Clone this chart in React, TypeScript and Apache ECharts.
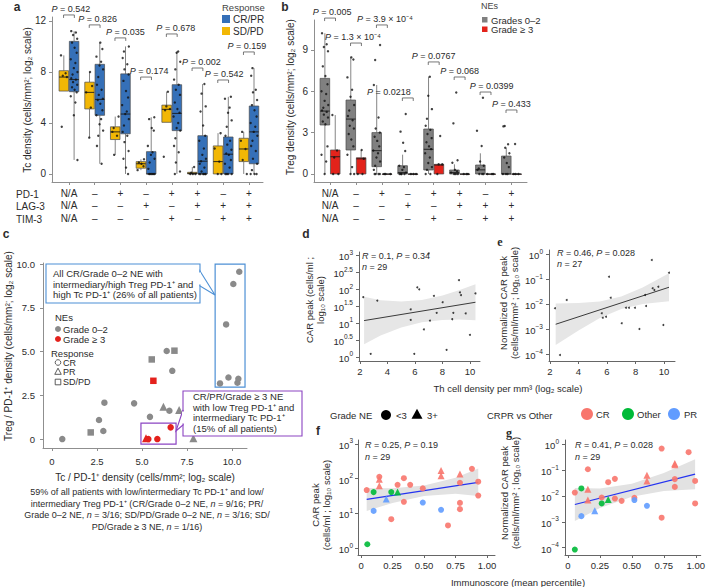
import React, { useEffect, useRef } from "react";
import * as echarts from "echarts";

const FONT = "'Liberation Sans', Arial, Helvetica, sans-serif";
const TXT = "#2b2b2b";
const AX = "#8f8f8f";
const AX2 = "#666666";

// ---------------- Panel a : Tc density by PD-1/LAG-3/TIM-3 ----------------
const markerPD1 = ["N/A", "–", "+", "–", "+", "+", "–", "+"];
const markerLAG3 = ["N/A", "–", "–", "+", "–", "+", "+", "+"];
const markerTIM3 = ["N/A", "–", "–", "–", "+", "–", "+", "+"];
const aTicks = [0, 4, 8, 12];
// [min, q1, median, q3, max]
const aBoxSDPD = [
  [6.5, 6.5, 7.6, 8.1, 9.3],
  [2.85, 5.1, 6.4, 7.2, 8.0],
  [1.5, 2.7, 3.3, 3.7, 4.5],
  [0.3, 0.45, 0.8, 0.97, 1.15],
  [4.05, 4.05, 5.07, 5.4, 6.45],
  [0, 0, 0.05, 0.13, 0.55],
  [0, 0, 0.97, 2.2, 3.2],
  [0, 0.97, 1.96, 2.8, 3.3],
];
const aBoxCRPR = [
  [1.1, 6.45, 7.4, 10.4, 11.2],
  [0.8, 4.6, 5.85, 8.6, 10.3],
  [0, 3.15, 4.7, 7.85, 10.0],
  [0, 0, 0, 1.75, 4.45],
  [0, 3.4, 4.75, 7.0, 9.6],
  [0, 0, 1.0, 3.0, 7.05],
  [0, 0, 1.55, 2.9, 6.05],
  [0, 0.8, 3.3, 5.33, 8.3],
];
const aPtsSDPD = [
  [9.3, 7.9, 7.7, 7.6, 3.7],
  [8.0, 6.9, 6.4, 5.2, 2.85],
  [4.5, 3.6, 3.3, 3.0, 1.5],
  [1.15, 0.9, 0.8, 0.6, 0.3],
  [6.45, 5.3, 5.1, 5.0, 1.35],
  [0.55, 0.1, 0, 0, 0],
  [3.2, 2.0, 0.97, 0, 0],
  [3.3, 2.6, 1.96, 1.1, 0],
];
const aPtsCRPR = [
  [11.2, 11.1, 10.9, 10.6, 10.3, 9.9, 9.5, 9.0, 8.7, 8.3, 8.0, 7.8, 7.5, 7.4, 7.2, 7.0, 6.8, 6.6, 6.4, 6.1, 5.6, 4.6, 1.1],
  [10.3, 9.8, 9.2, 8.8, 8.5, 8.2, 7.6, 7.0, 6.6, 6.2, 5.9, 5.8, 5.5, 5.0, 4.6, 4.3, 3.9, 3.4, 3.0, 2.2, 0.8],
  [10.0, 9.6, 9.1, 8.6, 8.2, 7.8, 7.3, 6.5, 6.0, 5.4, 4.9, 4.7, 4.3, 3.8, 3.3, 3.0, 2.5, 1.8, 1.2, 0.5, 0],
  [4.45, 4.3, 3.6, 3.4, 2.2, 1.7, 1.5, 1.2, 0.9, 0.4, 0, 0, 0, 0, 0],
  [9.6, 9.5, 8.8, 8.2, 7.4, 7.0, 6.6, 6.2, 5.6, 5.1, 4.8, 4.5, 4.0, 3.6, 3.4, 2.8, 2.2, 1.7, 0.9, 0.2, 0],
  [7.05, 6.3, 5.3, 4.9, 3.8, 3.0, 2.6, 2.0, 1.5, 1.2, 1.0, 0.8, 0.5, 0.2, 0, 0, 0, 0, 0, 0],
  [6.05, 5.9, 5.2, 4.8, 4.2, 3.7, 3.0, 2.6, 2.3, 1.9, 1.6, 1.5, 1.1, 0.8, 0.5, 0, 0, 0, 0],
  [8.3, 7.7, 6.6, 6.4, 5.8, 5.4, 5.0, 4.5, 4.0, 3.7, 3.3, 3.0, 2.6, 2.2, 1.8, 1.2, 0.8, 0.3, 0, 0, 0],
];
const aPValues = ["0.542", "0.826", "0.035", "0.174", "0.678", "0.002", "0.542", "0.159"];
const aPBracketY = [12.47, 11.69, 10.67, 7.6, 10.98, 8.31, 7.37, 9.57];

// ---------------- Panel b : Treg density by NE grade ----------------
const bTicks = [0, 3, 6, 9];
const bBoxLow = [
  [0, 3.55, 4.56, 6.93, 10.2],
  [0, 1.74, 3.98, 5.36, 8.45],
  [0, 0.53, 1.69, 3.0, 6.45],
  [0, 0, 0.1, 0.6, 1.4],
  [0, 0.29, 1.79, 3.26, 7.05],
  [0, 0, 0.1, 0.29, 0.7],
  [0, 0, 0.3, 0.65, 1.5],
  [0, 0, 0, 1.3, 1.9],
];
const bBoxHigh = [
  [0, 0, 1.25, 1.74, 4.27],
  [0, 0, 1.1, 1.18, 1.74],
  [0, 0, 0, 0, 0],
  [0, 0, 0, 0, 0],
  [0, 0, 0.65, 0.7, 0.7],
  [0, 0, 0, 0, 0],
  [0, 0, 0, 0, 0],
  [0, 0, 0, 0, 0],
];
const bPtsLow = [
  [10.2, 9.4, 9.2, 8.9, 7.8, 7.1, 6.5, 6.0, 5.8, 5.3, 5.0, 4.8, 4.6, 4.5, 4.3, 4.1, 3.8, 3.6, 2.0, 1.4, 0.9, 0],
  [8.45, 8.3, 7.0, 6.1, 5.6, 5.0, 4.6, 4.2, 3.9, 3.5, 3.3, 2.9, 2.5, 2.0, 1.4, 0.5, 0, 0],
  [9.35, 8.26, 6.45, 4.1, 3.3, 3.0, 2.7, 2.4, 2.0, 1.7, 1.5, 1.2, 0.9, 0.6, 0.3, 0, 0, 0, 0],
  [4.35, 3.07, 2.27, 1.67, 0.6, 0.5, 0.3, 0.1, 0, 0, 0, 0],
  [7.05, 5.67, 4.7, 4.0, 3.5, 3.2, 2.9, 2.6, 2.3, 2.0, 1.8, 1.5, 1.2, 0.8, 0.5, 0.3, 0, 0],
  [5.9, 3.67, 1.0, 0.82, 0.3, 0.2, 0.1, 0, 0, 0],
  [5.53, 3.14, 2.03, 0.9, 0.6, 0.4, 0.3, 0, 0, 0],
  [3.48, 3.45, 2.15, 1.9, 1.5, 1.2, 0.8, 0.5, 0, 0, 0],
];
const bPtsHigh = [
  [4.27, 1.7, 1.2, 0, 0],
  [1.74, 1.1, 0, 0],
  [0, 0, 0],
  [0, 0, 0],
  [2.75, 0.7, 0.7, 0],
  [0, 0, 0],
  [0, 0, 0],
  [2.17, 0, 0, 0],
];
const bPValues = ["0.005", "1.3 × 10⁻⁴", "3.9 × 10⁻⁴", "0.0218", "0.0767", "0.068", "0.0399", "0.433"];
const bPBracketY = [11.3, 9.49, 10.8, 5.51, 8.12, 7.03, 5.94, 4.64];

// ---------------- Panel c : Treg PD-1+ vs Tc PD-1+ ----------------
const cTicks = [0, 2.5, 5, 7.5, 10];
const cGrade02CR = [[0.57, 0.0], [2.61, 1.09], [2.85, 0.46], [2.91, 2.08], [4.56, 2.04], [5.44, 1.27], [6.37, 5.03], [6.52, 1.62], [6.68, 3.9], [9.33, 3.18], [9.8, 3.52], [10.3, 3.22], [10.35, 3.45], [9.67, 6.55], [10.07, 8.86], [10.4, 9.56]];
const cGrade02PR = [[6.19, 1.85], [7.06, 1.66], [7.85, 0.04]];
const cGrade02SD = [[2.15, 0.38], [5.54, 4.55], [6.8, 5.05]];
const cGrade3CR = [[5.35, 0.0], [5.85, 0.0], [6.59, 0.67]];
const cGrade3PR = [[5.22, 0.04]];
const cGrade3SD = [[5.63, 3.33]];
const cHighlight = [[9.06, 2.97, 10.72, 10.0], [4.94, -0.29, 6.89, 0.91]];

// ---------------- Panel d : CAR peak vs Th density (log10 exponents) ----------------
const dTicksY = [0, 0.5, 1, 1.5, 2, 2.5, 3];
const dTicksX = [2, 4, 6, 8, 10];
const dX = [2.24, 2.78, 3.26, 5.69, 5.69, 5.95, 6.17, 6.31, 6.65, 7.09, 7.38, 7.58, 8.01, 8.3, 8.71, 8.79, 9.2, 9.27, 9.35, 9.69, 10.0, 10.4, 7.0];
const dLog10Y = [1.76, 0.09, 1.66, 1.4, 1.09, 0.09, 2.05, 1.99, 0.81, 1.07, 1.8, 1.3, 1.61, 0.21, 1.11, 1.3, 2.26, 1.9, 1.82, 1.28, 0.65, 1.87, 3.05];
const dFitX = [2.3, 10.4];
const dFitY = [1.07, 1.61];
const dBandX = [2.3, 3.5, 5, 6.5, 8, 9.2, 10.4];
const dBandLo = [0.37, 0.63, 0.87, 1.02, 1.09, 1.1, 1.08];
const dBandHi = [1.77, 1.67, 1.63, 1.68, 1.81, 1.96, 2.14];

// ---------------- Panel e : normalized CAR peak vs Th density ----------------
const eTicksY = [-4, -3, -2, -1, 0];
const eX = [2.35, 2.7, 3.17, 5.63, 5.7, 5.93, 6.14, 6.26, 7.03, 7.33, 7.54, 7.96, 8.27, 8.67, 8.74, 9.14, 9.2, 9.32, 9.6, 9.95, 10.35];
const eLog10Y = [-2.17, -4.04, -1.84, -2.37, -2.55, -2.51, -0.91, -1.75, -2.77, -2.15, -2.15, -2.15, -3.0, -1.64, -2.08, -0.24, -1.37, -1.44, -1.31, -2.84, -0.75];
const eFitX = [2.4, 10.35];
const eFitY = [-2.81, -1.33];
const eBandX = [2.4, 4, 5.5, 7, 8.5, 10.35];
const eBandLo = [-3.64, -3.06, -2.56, -2.2, -2.0, -1.89];
const eBandHi = [-1.98, -1.96, -1.9, -1.7, -1.34, -0.77];

// ---------------- Panel f : CAR peak vs Immunoscore ----------------
const fgTicksX = [0, 0.25, 0.5, 0.75, 1];
const fTicksY = [0, 1, 2, 3];
const fCRcircle = [[0.045, 1.67], [0.145, 2.05], [0.24, 0.83], [0.29, 1.82], [0.34, 2.01], [0.34, 1.33], [0.39, 1.82], [0.49, 1.72], [0.69, 3.18], [0.69, 0.65], [0.785, 1.88], [0.785, 1.3], [0.785, 1.12], [0.88, 2.28], [0.93, 1.91], [0.93, 1.51]];
const fCRtri = [[0.145, 1.79], [0.145, 1.98], [0.635, 2.23], [0.635, 2.08], [0.785, 2.13]];
const fOtherCircle = [[0.05, 0.11], [0.1, 1.61], [0.24, 1.61]];
const fOtherTri = [[0.29, 1.61]];
const fPRcircle = [[0.1, 1.07], [0.49, 1.31], [0.635, 1.1]];
const fPRtri = [[0.2, 1.41]];
const fFitX = [0.045, 0.93];
const fFitY = [1.4, 1.89];
const fBandX = [0.045, 0.25, 0.5, 0.75, 0.93];
const fBandLo = [1.07, 1.3, 1.5, 1.56, 1.5];
const fBandHi = [1.73, 1.72, 1.8, 2.02, 2.29];

// ---------------- Panel g : normalized CAR peak vs Immunoscore ----------------
const gTicksY = [-4, -3, -2, -1, 0];
const gCRcircle = [[0.054, -1.87], [0.156, -0.97], [0.264, -2.06], [0.315, -1.47], [0.367, -1.34], [0.367, -2.1], [0.42, -2.19], [0.52, -2.07], [0.733, -0.17], [0.733, -2.84], [0.836, -1.35], [0.836, -1.65], [0.944, -0.31], [0.995, -1.42], [0.995, -2.29]];
const gCRtri = [[0.156, -1.74], [0.156, -2.16], [0.618, -1.2], [0.618, -1.42], [0.836, -0.75], [0.836, -0.8]];
const gOtherCircle = [[0.054, -4.07], [0.105, -1.71], [0.264, -2.29]];
const gOtherTri = [[0.315, -2.14]];
const gPRcircle = [[0.105, -2.78], [0.52, -2.16], [0.618, -2.38]];
const gPRtri = [[0.21, -2.57]];
const gFitX = [0.054, 0.995];
const gFitY = [-2.33, -1.16];
const gBandX = [0.054, 0.25, 0.5, 0.75, 0.995];
const gBandLo = [-2.97, -2.47, -2.03, -1.81, -1.74];
const gBandHi = [-1.69, -1.71, -1.53, -1.11, -0.58];

// ---------------- styling ----------------
const YELLOW = "#F2B705";
const BLUE = "#3570B8";
const GRAY = "#808080";
const RED = "#E3231B";
const C_GRAY = "#8A8A8A";
const C_RED = "#E4211C";
const CR_COL = "#F8766D";
const OTHER_COL = "#00BA38";
const PR_COL = "#619CFF";
const CALL_BLUE = "#4D90D5";
const CALL_PURPLE = "#8B44C2";
const JIT = [-0.11, 0.07, -0.04, 0.12, -0.08, 0.02, 0.1, -0.13, 0.05, -0.01, 0.13, -0.06];

const expStr = (v: number) => (v < 0 ? "−" + Math.abs(v) : String(v));
const logFmt = (v: number) => `{b|10}{s|${expStr(v)}}`;
const logRich = {
  b: { fontSize: 9.5, fontFamily: FONT, color: TXT, lineHeight: 13, verticalAlign: "bottom" },
  s: { fontSize: 6.5, fontFamily: FONT, color: TXT, lineHeight: 7, verticalAlign: "top" },
};

function axis(gi: number, min: number, max: number, ticks: number[], o: any = {}) {
  const col = o.lineColor || AX;
  return {
    type: "value",
    gridIndex: gi,
    min,
    max,
    axisLine: { show: true, onZero: false, lineStyle: { color: col, width: 1 } },
    axisTick: { show: true, length: 3, customValues: ticks, lineStyle: { color: col, width: 1 } },
    axisLabel: {
      show: true,
      customValues: ticks,
      margin: o.margin ?? 6,
      fontSize: o.fontSize || 10,
      fontFamily: FONT,
      color: TXT,
      lineHeight: o.lineHeight,
      formatter: o.formatter,
      rich: o.rich,
      hideOverlap: false,
    },
    splitLine: { show: false },
  };
}

function jitter(groups: number[][], offset: number) {
  const out: number[][] = [];
  groups.forEach((vals, g) =>
    vals.forEach((v, k) => out.push([g + offset + JIT[(k + g * 5) % JIT.length], v]))
  );
  return out;
}

function boxSeries(ai: number, stats: number[][], offset: number, fill: string) {
  return {
    type: "custom",
    xAxisIndex: ai,
    yAxisIndex: ai,
    clip: false,
    z: 2,
    silent: true,
    data: stats.map((s, i) => [i, ...s]),
    encode: { x: 0, y: [1, 2, 3, 4, 5] },
    renderItem: (params: any, api: any) => {
      const x = api.value(0) + offset;
      const lo = api.value(1), q1 = api.value(2), md = api.value(3), q3 = api.value(4), hi = api.value(5);
      const w = api.size([0.37, 0])[0];
      const pLo = api.coord([x, lo]);
      const pQ1 = api.coord([x, q1]);
      const pMd = api.coord([x, md]);
      const pQ3 = api.coord([x, q3]);
      const pHi = api.coord([x, hi]);
      const cx = pLo[0];
      return {
        type: "group",
        children: [
          { type: "line", shape: { x1: cx, y1: pHi[1], x2: cx, y2: pQ3[1] }, style: { stroke: "#666", lineWidth: 0.8 } },
          { type: "line", shape: { x1: cx, y1: pQ1[1], x2: cx, y2: pLo[1] }, style: { stroke: "#666", lineWidth: 0.8 } },
          {
            type: "rect",
            shape: { x: cx - w / 2, y: pQ3[1], width: w, height: Math.max(pQ1[1] - pQ3[1], 0.5) },
            style: { fill, stroke: "#4a4a4a", lineWidth: 0.7 },
          },
          { type: "line", shape: { x1: cx - w / 2, y1: pMd[1], x2: cx + w / 2, y2: pMd[1] }, style: { stroke: "#1a1a1a", lineWidth: 0.9 } },
        ],
      };
    },
  };
}

function pSeries(ai: number, ys: number[], labels: string[], shifts: number[]) {
  return {
    type: "custom",
    xAxisIndex: ai,
    yAxisIndex: ai,
    clip: false,
    z: 5,
    silent: true,
    data: ys.map((y, i) => [i, y]),
    renderItem: (params: any, api: any) => {
      const i = params.dataIndex;
      const p = api.coord([api.value(0), api.value(1)]);
      const half = api.size([0.21, 0])[0];
      return {
        type: "group",
        children: [
          {
            type: "polyline",
            shape: { points: [[p[0] - half, p[1] + 3], [p[0] - half, p[1]], [p[0] + half, p[1]], [p[0] + half, p[1] + 3]] },
            style: { stroke: "#555", fill: "none", lineWidth: 0.8 },
          },
          {
            type: "text",
            x: p[0] + shifts[i],
            y: p[1] - 6,
            style: {
              text: `{i|P} = ${labels[i]}`,
              fontSize: 9,
              fontFamily: FONT,
              fill: TXT,
              align: "center",
              verticalAlign: "middle",
              rich: { i: { fontStyle: "italic", fontSize: 9, fontFamily: FONT, fill: TXT } },
            },
          },
        ],
      };
    },
  };
}

function dots(ai: number, data: number[][], color: string, size: number, z = 3) {
  return {
    type: "scatter",
    xAxisIndex: ai,
    yAxisIndex: ai,
    data,
    symbol: "circle",
    symbolSize: size,
    itemStyle: { color },
    z,
    silent: true,
  };
}

function sym(ai: number, data: number[][], symbol: string, color: string, size: number, opacity = 1) {
  return {
    type: "scatter",
    xAxisIndex: ai,
    yAxisIndex: ai,
    data,
    symbol,
    symbolSize: size,
    itemStyle: { color, opacity },
    z: 4,
    silent: true,
  };
}

function bandSeries(ai: number, xs: number[], lo: number[], hi: number[], color: string) {
  return {
    type: "custom",
    xAxisIndex: ai,
    yAxisIndex: ai,
    clip: false,
    z: 1,
    silent: true,
    data: [[xs[0], lo[0]]],
    renderItem: (params: any, api: any) => {
      const top = xs.map((x, k) => api.coord([x, hi[k]]));
      const bot = xs.map((x, k) => api.coord([x, lo[k]])).reverse();
      return { type: "polygon", shape: { points: [...top, ...bot] }, style: { fill: color } };
    },
  };
}

function fitLine(ai: number, xs: number[], ys: number[], color: string, width: number) {
  return {
    type: "line",
    xAxisIndex: ai,
    yAxisIndex: ai,
    data: xs.map((x, k) => [x, ys[k]]),
    symbol: "none",
    lineStyle: { color, width },
    z: 2,
    silent: true,
  };
}

function T(x: number, y: number, text: string, o: any = {}) {
  const align = o.align || "left";
  const valign = o.valign || "middle";
  const size = o.size || 9.5;
  return {
    type: "text",
    x,
    y,
    rotation: o.rot || 0,
    z: 20,
    silent: true,
    style: {
      text,
      fill: o.color || TXT,
      fontSize: size,
      fontFamily: o.family || FONT,
      fontWeight: o.weight || "normal",
      textAlign: align,
      textVerticalAlign: valign,
      align,
      verticalAlign: valign,
      lineHeight: o.lh,
      rich: o.rich || { i: { fontStyle: "italic", fontSize: size, fontFamily: FONT, fill: o.color || TXT } },
    },
  };
}

function R(x: number, y: number, w: number, h: number, fill: string, stroke?: string, lw = 1) {
  return { type: "rect", z: 15, silent: true, shape: { x, y, width: w, height: h }, style: { fill, stroke: stroke || "none", lineWidth: lw } };
}
function C(cx: number, cy: number, r: number, fill: string, stroke?: string) {
  return { type: "circle", z: 15, silent: true, shape: { cx, cy, r }, style: { fill, stroke: stroke || "none", lineWidth: 0.8 } };
}
function TRI(cx: number, cy: number, s: number, fill: string, stroke?: string) {
  const h = s * 0.87;
  return {
    type: "polygon",
    z: 15,
    silent: true,
    shape: { points: [[cx, cy - h / 2 - 0.5], [cx - s / 2, cy + h / 2], [cx + s / 2, cy + h / 2]] },
    style: { fill, stroke: stroke || "none", lineWidth: 0.8 },
  };
}

function buildOption() {
  const groupFmt = (v: number) => {
    const i = Math.round(v);
    return `${markerPD1[i]}\n${markerLAG3[i]}\n${markerTIM3[i]}`;
  };
  const grids = [
    { left: 52, top: 17, width: 211, height: 165 },
    { left: 314, top: 20, width: 213, height: 162 },
    { left: 43, top: 263, width: 204, height: 185 },
    { left: 359, top: 252, width: 121, height: 109 },
    { left: 549, top: 250, width: 126, height: 111 },
    { left: 358, top: 440, width: 137, height: 115 },
    { left: 565, top: 440, width: 138, height: 115 },
  ];
  const xAxis = [
    axis(0, -0.66, 7.55, [0, 1, 2, 3, 4, 5, 6, 7], { formatter: groupFmt, lineHeight: 12.6, margin: 5 }),
    axis(1, -0.62, 7.6, [0, 1, 2, 3, 4, 5, 6, 7], { formatter: groupFmt, lineHeight: 12.6, margin: 5 }),
    axis(2, -0.5, 10.83, cTicks, { formatter: (v: number) => (v === 0 ? "0" : v.toFixed(1)), margin: 8, fontSize: 9.5 }),
    axis(3, 1.93, 10.73, dTicksX, { lineColor: AX2, margin: 5, fontSize: 9.5 }),
    axis(4, 1.93, 10.77, dTicksX, { lineColor: AX2, margin: 5, fontSize: 9.5 }),
    axis(5, -0.024, 1.063, fgTicksX, { lineColor: AX2, margin: 5, fontSize: 9.5, formatter: (v: number) => (v === 0 ? "0" : v.toFixed(2)) }),
    axis(6, -0.023, 1.039, fgTicksX, { lineColor: AX2, margin: 5, fontSize: 9.5, formatter: (v: number) => (v === 0 ? "0" : v.toFixed(2)) }),
  ];
  const yAxis = [
    axis(0, -0.63, 12.31, aTicks, { margin: 6 }),
    axis(1, -0.58, 11.16, bTicks, { margin: 6 }),
    axis(2, -0.51, 10.06, cTicks, { formatter: (v: number) => (v === 0 ? "0" : v.toFixed(1)), margin: 8, fontSize: 9.5 }),
    axis(3, -0.12, 3.09, dTicksY, { lineColor: AX2, margin: 6, formatter: logFmt, rich: logRich }),
    axis(4, -4.28, 0.16, eTicksY, { lineColor: AX2, margin: 6, formatter: logFmt, rich: logRich }),
    axis(5, -0.2, 3.11, fTicksY, { lineColor: AX2, margin: 5, formatter: logFmt, rich: logRich }),
    axis(6, -4.28, 0.16, gTicksY, { lineColor: AX2, margin: 6, formatter: logFmt, rich: logRich }),
  ];

  const series: any[] = [
    // a
    boxSeries(0, aBoxSDPD, -0.2, YELLOW),
    boxSeries(0, aBoxCRPR, 0.2, BLUE),
    dots(0, jitter(aPtsSDPD, -0.2), "#111", 2.4),
    dots(0, jitter(aPtsCRPR, 0.2), "#111", 2.4),
    pSeries(0, aPBracketY, aPValues, [2, 3, 5, 3, 4, 4, 1, -2]),
    // b
    boxSeries(1, bBoxLow, -0.2, GRAY),
    boxSeries(1, bBoxHigh, 0.2, RED),
    dots(1, jitter(bPtsLow, -0.2), "#111", 2.4),
    dots(1, jitter(bPtsHigh, 0.2), "#111", 2.4),
    pSeries(1, bPBracketY, bPValues, [2, -3, 3, -19, 0, 0, 6, 0]),
    // c
    {
      type: "custom",
      xAxisIndex: 2,
      yAxisIndex: 2,
      clip: false,
      z: 2,
      silent: true,
      data: cHighlight,
      renderItem: (params: any, api: any) => {
        const p1 = api.coord([api.value(0), api.value(1)]);
        const p2 = api.coord([api.value(2), api.value(3)]);
        return {
          type: "rect",
          shape: { x: p1[0], y: p2[1], width: p2[0] - p1[0], height: p1[1] - p2[1] },
          style: { fill: "none", stroke: params.dataIndex === 0 ? CALL_BLUE : CALL_PURPLE, lineWidth: 1.2 },
        };
      },
    },
    sym(2, cGrade02CR, "circle", C_GRAY, 6.5),
    sym(2, cGrade02PR, "triangle", C_GRAY, 8),
    sym(2, cGrade02SD, "rect", C_GRAY, 6.5),
    sym(2, cGrade3CR, "circle", C_RED, 6.5),
    sym(2, cGrade3PR, "triangle", C_RED, 8),
    sym(2, cGrade3SD, "rect", C_RED, 6.5),
    // d
    bandSeries(3, dBandX, dBandLo, dBandHi, "#E6E6E6"),
    fitLine(3, dFitX, dFitY, "#3a3a3a", 1),
    dots(3, dX.map((x, k) => [x, dLog10Y[k]]), "#111", 2),
    // e
    bandSeries(4, eBandX, eBandLo, eBandHi, "#E6E6E6"),
    fitLine(4, eFitX, eFitY, "#3a3a3a", 1),
    dots(4, eX.map((x, k) => [x, eLog10Y[k]]), "#111", 2),
    // f
    bandSeries(5, fBandX, fBandLo, fBandHi, "#E2E2E2"),
    fitLine(5, fFitX, fFitY, "#2433F0", 1.2),
    sym(5, fCRcircle, "circle", CR_COL, 6, 0.9),
    sym(5, fCRtri, "triangle", CR_COL, 7, 0.9),
    sym(5, fOtherCircle, "circle", OTHER_COL, 6, 0.9),
    sym(5, fOtherTri, "triangle", OTHER_COL, 7, 0.9),
    sym(5, fPRcircle, "circle", PR_COL, 6, 0.9),
    sym(5, fPRtri, "triangle", PR_COL, 7, 0.9),
    // g
    bandSeries(6, gBandX, gBandLo, gBandHi, "#E2E2E2"),
    fitLine(6, gFitX, gFitY, "#2433F0", 1.2),
    sym(6, gCRcircle, "circle", CR_COL, 6, 0.9),
    sym(6, gCRtri, "triangle", CR_COL, 7, 0.9),
    sym(6, gOtherCircle, "circle", OTHER_COL, 6, 0.9),
    sym(6, gOtherTri, "triangle", OTHER_COL, 7, 0.9),
    sym(6, gPRcircle, "circle", PR_COL, 6, 0.9),
    sym(6, gPRtri, "triangle", PR_COL, 7, 0.9),
  ];

  const bold = { weight: "bold", size: 12, align: "center" };
  const graphic: any[] = [
    // panel letters
    T(17, 7, "a", bold),
    T(285, 7, "b", bold),
    T(6, 234, "c", bold),
    T(306, 234, "d", bold),
    T(500, 242, "e", { ...bold, family: "'Liberation Serif', serif" }),
    T(318, 431, "f", bold),
    T(509, 433, "g", { ...bold, family: "'Liberation Serif', serif" }),

    // panel a
    T(16, 194, "PD-1", { size: 10 }),
    T(16, 206.5, "LAG-3", { size: 10 }),
    T(16, 219, "TIM-3", { size: 10 }),
    T(27, 100, "Tc density (cells/mm²; log₂ scale)", { rot: Math.PI / 2, align: "center", size: 10 }),
    T(222, 7, "Response", { size: 9.5, color: "#444" }),
    R(222, 15, 8, 8, BLUE),
    T(233, 19, "CR/PR", { size: 10 }),
    R(222, 27, 8, 8, YELLOW),
    T(233, 31, "SD/PD", { size: 10 }),

    // panel b
    T(290, 97, "Treg density (cells/mm²; log₂ scale)", { rot: Math.PI / 2, align: "center", size: 10 }),
    T(481, 6, "NEs", { size: 9, color: "#444" }),
    R(482, 17, 5.5, 5.5, GRAY),
    T(491, 20, "Grades 0–2", { size: 9.5 }),
    R(482, 26.5, 5.5, 5.5, RED),
    T(491, 29.5, "Grade ≥ 3", { size: 9.5 }),

    // panel c
    T(8, 346, "Treg / PD-1⁺ density (cells/mm²; log₂ scale)", { rot: Math.PI / 2, align: "center", size: 10 }),
    T(145, 477, "Tc / PD-1⁺ density (cells/mm²; log₂ scale)", { align: "center", size: 10 }),
    T(
      147,
      509.5,
      "59% of all patients with low/intermediary Tc PD-1⁺ and low/\nintermediary Treg PD-1⁺ (CR/Grade 0–2 NE, {i|n} = 9/16; PR/\nGrade 0–2 NE, {i|n} = 3/16; SD/PD/Grade 0–2 NE, {i|n} = 3/16; SD/\nPD/Grade ≥ 3 NE, {i|n} = 1/16)",
      { align: "center", size: 9, lh: 11.7 }
    ),
    T(55, 317, "NEs", { size: 9.5, lh: 9.5 }),
    C(58, 329, 3, C_GRAY),
    T(63, 329, "Grade 0–2", { size: 9.5, lh: 9.5 }),
    C(58, 339, 3, C_RED),
    T(63, 339, "Grade ≥ 3", { size: 9.5, lh: 9.5 }),
    T(51, 353, "Response", { size: 9.5, lh: 9.5 }),
    C(58, 362.5, 2.8, "none", "#333"),
    T(63, 362.5, "CR", { size: 9, lh: 9 }),
    TRI(58, 371.5, 6.5, "none", "#333"),
    T(63, 372, "PR", { size: 9, lh: 9 }),
    R(55.2, 379.2, 5.6, 5.6, "none", "#333", 0.8),
    T(63, 382, "SD/PD", { size: 9, lh: 9 }),

    // blue callout
    R(46, 264, 154, 39, "#fff", CALL_BLUE, 1.1),
    {
      type: "polygon",
      z: 16,
      silent: true,
      shape: { points: [[200, 271], [215, 295], [200, 286]] },
      style: { fill: "#fff", stroke: CALL_BLUE, lineWidth: 1.1 },
    },
    { type: "line", z: 17, silent: true, shape: { x1: 200, y1: 272.5, x2: 200, y2: 284.5 }, style: { stroke: "#fff", lineWidth: 2 } },
    T(53, 284, "All CR/Grade 0–2 NE with\nintermediary/high Treg PD-1⁺ and\nhigh Tc PD-1⁺ (26% of all patients)", { size: 9.5, lh: 10.7 }),

    // purple callout
    R(183, 391, 119, 45, "#fff", CALL_PURPLE, 1.1),
    {
      type: "polygon",
      z: 16,
      silent: true,
      shape: { points: [[183, 410], [176, 431], [183, 425]] },
      style: { fill: "#fff", stroke: CALL_PURPLE, lineWidth: 1.1 },
    },
    { type: "line", z: 17, silent: true, shape: { x1: 183, y1: 411.5, x2: 183, y2: 423.5 }, style: { stroke: "#fff", lineWidth: 2 } },
    T(193, 412.5, "CR/PR/Grade ≥ 3 NE\nwith low Treg PD-1⁺ and\nintermediary Tc PD-1⁺\n(15% of all patients)", { size: 9.5, lh: 10.4 }),

    // panels d & e
    T(315, 300, "CAR peak (cells/ml ;\nlog₁₀ scale)", { rot: Math.PI / 2, align: "center", size: 9.5, lh: 11 }),
    T(509, 303, "Normalized CAR peak\n(cells/ml/mm² ; log₁₀ scale)", { rot: Math.PI / 2, align: "center", size: 9.5, lh: 11 }),
    T(508, 388, "Th cell density per mm³ (log₂ scale)", { align: "center", size: 9.5 }),
    T(362, 256, "{i|R} = 0.1, {i|P} = 0.34", { size: 9 }),
    T(362, 267, "{i|n} = 29", { size: 9 }),
    T(557, 253, "{i|R} = 0.46, {i|P} = 0.028", { size: 9 }),
    T(557, 263.5, "{i|n} = 27", { size: 9 }),

    // legend f/g
    T(330, 415, "Grade NE", { size: 9.5 }),
    C(386, 415, 5, "#000"),
    T(396, 415, "<3", { size: 9.5 }),
    TRI(417, 414, 11, "#000"),
    T(427, 415, "3+", { size: 9.5 }),
    T(487, 415, "CRPR vs Other", { size: 9.5 }),
    C(587, 414, 6, CR_COL),
    T(596, 414, "CR", { size: 9.5 }),
    C(628, 414, 6, OTHER_COL),
    T(637, 414, "Other", { size: 9.5 }),
    C(674, 414, 6, PR_COL),
    T(684, 414, "PR", { size: 9.5 }),

    // panels f & g
    T(321, 505, "CAR peak\n(cells/ml ; log₁₀ scale)", { rot: Math.PI / 2, align: "center", size: 9.5, lh: 11 }),
    T(510, 493, "Normalized CAR peak\n(cells/ml/mm² ; log₁₀ scale)", { rot: Math.PI / 2, align: "center", size: 9.5, lh: 11 }),
    T(518, 582, "Immunoscore (mean percentile)", { align: "center", size: 9.5 }),
    T(365, 445, "{i|R} = 0.25, {i|P} = 0.19", { size: 9 }),
    T(365, 457, "{i|n} = 29", { size: 9 }),
    T(575, 445, "{i|R} = 0.41, {i|P} = 0.028", { size: 9 }),
    T(575, 457, "{i|n} = 29", { size: 9 }),
  ];

  return {
    animation: false,
    backgroundColor: "#ffffff",
    textStyle: { fontFamily: FONT },
    grid: grids,
    xAxis,
    yAxis,
    series,
    graphic,
  };
}

export default function App() {
  const ref = useRef<HTMLDivElement>(null);
  useEffect(() => {
    const chart = echarts.init(ref.current as HTMLDivElement, null, { renderer: "svg" });
    chart.setOption(buildOption() as any);
    return () => chart.dispose();
  }, []);
  return (
    <div
      ref={ref}
      style={{ position: "absolute", left: 0, top: 0, width: 708, height: 587, background: "#fff" }}
    />
  );
}
